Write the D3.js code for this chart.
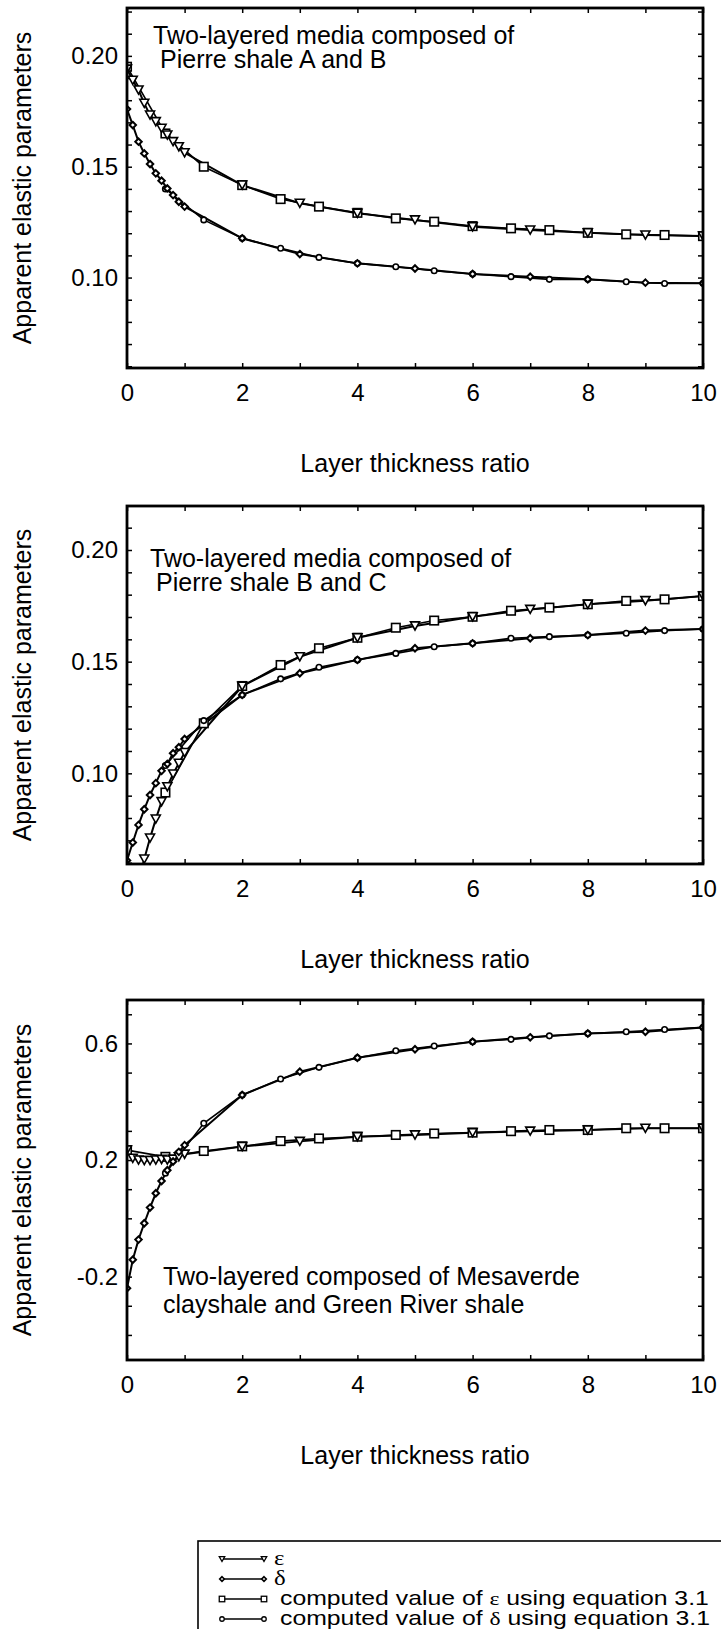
<!DOCTYPE html>
<html>
<head>
<meta charset="utf-8">
<script src="https://cdn.jsdelivr.net/npm/d3@7"></script>
<style>
  html, body { margin: 0; padding: 0; background: #fff; }
  svg { display: block; }
  text { font-family: "Liberation Sans", Arial, sans-serif; fill: #000; }
  .serif { font-family: "Liberation Serif", "DejaVu Serif", serif; }
</style>
</head>
<body>
<svg id="fig" width="721" height="1629"></svg>
<script>
// Layer thickness ratios: measured values are sampled finely below 1, then at integers;
// computed values come every 2/3.
const xMeasured = [0, 0.1, 0.2, 0.3, 0.4, 0.5, 0.6, 0.7, 0.8, 0.9, 1, 2, 3, 4, 5, 6, 7, 8, 9, 10];
const xComputed = [0, 0.667, 1.333, 2, 2.667, 3.333, 4, 4.667, 5.333, 6, 6.667, 7.333, 8, 8.667, 9.333, 10];

// Pierre shale A and B
const epsAB       = [0.194, 0.189, 0.1846, 0.1786, 0.1733, 0.1703, 0.1673, 0.1643, 0.1613, 0.159, 0.1563,
                     0.1417, 0.1335, 0.129, 0.126, 0.1229, 0.1214, 0.1202, 0.1192, 0.1187];
const deltaAB     = [0.176, 0.1688, 0.1613, 0.156, 0.1512, 0.147, 0.1437, 0.1402, 0.1372, 0.1342, 0.132,
                     0.1177, 0.1106, 0.1064, 0.1041, 0.1016, 0.1004, 0.0992, 0.0977, 0.0974];
const epsCalcAB   = [0.1951, 0.165, 0.150, 0.1417, 0.1354, 0.132, 0.1292, 0.1267, 0.1252, 0.1232,
                     0.1222, 0.1214, 0.1202, 0.1195, 0.1192, 0.1187];
const deltaCalcAB = [null, 0.140, 0.126, 0.1177, 0.1132, 0.1091, 0.1064, 0.1049, 0.1031, 0.1016,
                     0.1004, 0.0992, 0.0992, 0.0981, 0.0973, 0.0974];

// Pierre shale B and C
const epsBC       = [null, null, 0.052, 0.0616, 0.071, 0.0795, 0.0873, 0.094, 0.0997, 0.1045, 0.1093,
                     0.139, 0.1522, 0.1607, 0.166, 0.1701, 0.1734, 0.1757, 0.1773, 0.1794];
const deltaBC     = [0.061, 0.069, 0.0769, 0.0839, 0.0903, 0.0956, 0.1011, 0.1042, 0.109, 0.1117, 0.1154,
                     0.1351, 0.1448, 0.1508, 0.156, 0.1582, 0.1605, 0.1619, 0.1639, 0.1646];
const epsCalcBC   = [null, 0.0914, 0.1224, 0.1391, 0.1485, 0.156, 0.1607, 0.1652, 0.1684, 0.1701,
                     0.1728, 0.1742, 0.1757, 0.1772, 0.1779, 0.1794];
const deltaCalcBC = [null, 0.1035, 0.1236, 0.1351, 0.1423, 0.1475, 0.1508, 0.1537, 0.1567, 0.1582,
                     0.1605, 0.1612, 0.1619, 0.1627, 0.1639, 0.1646];

// Mesaverde clayshale and Green River shale
const epsMG       = [0.234, 0.206, 0.200, 0.198, 0.198, 0.200, 0.202, 0.200, 0.203, 0.211, 0.220,
                     0.246, 0.264, 0.280, 0.286, 0.294, 0.299, 0.303, 0.309, 0.309];
const deltaMG     = [-0.24, -0.142, -0.073, -0.017, 0.037, 0.086, 0.128, 0.165, 0.195, 0.228, 0.251,
                     0.423, 0.503, 0.551, 0.580, 0.606, 0.621, 0.634, 0.640, 0.655];
const epsCalcMG   = [0.234, 0.211, 0.231, 0.247, 0.265, 0.274, 0.280, 0.286, 0.291, 0.294,
                     0.299, 0.303, 0.303, 0.309, 0.309, 0.309];
const deltaCalcMG = [null, 0.155, 0.326, 0.423, 0.478, 0.518, 0.551, 0.575, 0.591, 0.606,
                     0.614, 0.626, 0.634, 0.640, 0.648, 0.655];

// Axis ticks and labels
const xTicks = [0, 1, 2, 3, 4, 5, 6, 7, 8, 9, 10];
const xLabelled = [0, 2, 4, 6, 8, 10];
const yTicksPierre = [0.06, 0.07, 0.08, 0.09, 0.10, 0.11, 0.12, 0.13, 0.14, 0.15, 0.16, 0.17, 0.18, 0.19, 0.20, 0.21, 0.22];
const yLabelsPierre = [0.10, 0.15, 0.20];
const yTicksMG = [-0.4, -0.3, -0.2, -0.1, 0, 0.1, 0.2, 0.3, 0.4, 0.5, 0.6, 0.7];
const yLabelsMG = [-0.2, 0.2, 0.6];

const xTitle = "Layer thickness ratio";
const yTitle = "Apparent elastic parameters";
const noteAB = ["Two-layered media composed of", "Pierre shale A and B"];
const noteBC = ["Two-layered media composed of", "Pierre shale B and C"];
const noteMG = ["Two-layered composed of Mesaverde", "clayshale and Green River shale"];

const legendRows = [
  { mark: "triangle", parts: [{ t: "ε", serif: true }] },
  { mark: "diamond",  parts: [{ t: "δ", serif: true }] },
  { mark: "square",   parts: [{ t: "computed value of " }, { t: "ε", serif: true }, { t: " using equation 3.1" }] },
  { mark: "circle",   parts: [{ t: "computed value of " }, { t: "δ", serif: true }, { t: " using equation 3.1" }] }
];

// ---------------------------------------------------------------------------
const svg = d3.select("#fig");
const left = 127, right = 703;

const panels = [
  { id: "ab", top: 8,    bottom: 368,  domain: [0.0592, 0.2216], ticks: yTicksPierre, labels: yLabelsPierre, fmt: 2,
    eps: epsAB, delta: deltaAB, epsCalc: epsCalcAB, deltaCalc: deltaCalcAB,
    note: noteAB, noteX: [153, 160], noteY: [44, 68] },
  { id: "bc", top: 506,  bottom: 864,  domain: [0.0594, 0.2197], ticks: yTicksPierre, labels: yLabelsPierre, fmt: 2,
    eps: epsBC, delta: deltaBC, epsCalc: epsCalcBC, deltaCalc: deltaCalcBC,
    note: noteBC, noteX: [150, 156], noteY: [567, 591] },
  { id: "mg", top: 1000, bottom: 1360, domain: [-0.486, 0.749], ticks: yTicksMG, labels: yLabelsMG, fmt: 1,
    eps: epsMG, delta: deltaMG, epsCalc: epsCalcMG, deltaCalc: deltaCalcMG,
    note: noteMG, noteX: [163, 163], noteY: [1285, 1313] }
];

// Marker shapes
function drawMarker(g, type, cx, cy, s, sw) {
  if (type === "triangle") {
    const h = s * 0.9;
    g.append("path")
      .attr("d", `M${cx - s / 2},${cy - h / 2}L${cx + s / 2},${cy - h / 2}L${cx},${cy + h / 2}Z`)
      .attr("fill", "#fff").attr("stroke", "#000").attr("stroke-width", sw);
  } else if (type === "square") {
    g.append("rect")
      .attr("x", cx - s / 2).attr("y", cy - s / 2).attr("width", s).attr("height", s)
      .attr("fill", "#fff").attr("stroke", "#000").attr("stroke-width", sw);
  } else if (type === "diamond") {
    const r = s / 2;
    g.append("path")
      .attr("d", `M${cx},${cy - r}L${cx + r},${cy}L${cx},${cy + r}L${cx - r},${cy}Z`)
      .attr("fill", "#fff").attr("stroke", "#000").attr("stroke-width", sw + 0.4);
  } else {
    g.append("circle")
      .attr("cx", cx).attr("cy", cy).attr("r", s / 2)
      .attr("fill", "#fff").attr("stroke", "#000").attr("stroke-width", sw);
  }
}

panels.forEach(p => {
  const x = d3.scaleLinear().domain([0, 10]).range([left, right]);
  const y = d3.scaleLinear().domain(p.domain).range([p.bottom, p.top]);
  const g = svg.append("g");

  // clip to the plotting frame
  svg.append("clipPath").attr("id", "clip-" + p.id)
    .append("rect").attr("x", left).attr("y", p.top)
    .attr("width", right - left).attr("height", p.bottom - p.top);

  // axes with inward ticks on all four sides
  const fmtY = d => p.labels.includes(d) ? d.toFixed(p.fmt) : "";
  const axB = g.append("g").attr("transform", `translate(0,${p.bottom})`)
    .call(d3.axisBottom(x).tickValues(xTicks).tickSize(-5).tickPadding(16)
      .tickFormat(d => xLabelled.includes(d) ? String(d) : ""));
  const axT = g.append("g").attr("transform", `translate(0,${p.top})`)
    .call(d3.axisTop(x).tickValues(xTicks).tickSize(-5).tickFormat(""));
  const axL = g.append("g").attr("transform", `translate(${left},0)`)
    .call(d3.axisLeft(y).tickValues(p.ticks).tickSize(-5).tickPadding(9).tickFormat(fmtY));
  const axR = g.append("g").attr("transform", `translate(${right},0)`)
    .call(d3.axisRight(y).tickValues(p.ticks).tickSize(-5).tickFormat(""));
  [axB, axT, axL, axR].forEach(a => {
    a.select(".domain").remove();
    a.selectAll(".tick line").attr("stroke", "#000").attr("stroke-width", 1.5);
    a.selectAll(".tick text").attr("font-size", 24).attr("font-family", "Liberation Sans, Arial, sans-serif").attr("fill", "#000");
  });

  // data lines
  const plot = g.append("g").attr("clip-path", `url(#clip-${p.id})`);
  const line = d3.line().defined(d => d.v != null).x(d => x(d.x)).y(d => y(d.v));
  const series = [
    { xs: xComputed, vs: p.epsCalc,   mark: "square",   size: 8.5, w: 1.6 },
    { xs: xComputed, vs: p.deltaCalc, mark: "circle",   size: 5.5, w: 1.6 },
    { xs: xMeasured, vs: p.eps,       mark: "triangle", size: 9,   w: 2.0 },
    { xs: xMeasured, vs: p.delta,     mark: "diamond",  size: 6.5, w: 2.0 }
  ];
  series.forEach(s => {
    const pts = s.xs.map((xv, i) => ({ x: xv, v: s.vs[i] }));
    plot.append("path").datum(pts).attr("d", line)
      .attr("fill", "none").attr("stroke", "#000").attr("stroke-width", s.w);
  });
  series.forEach(s => {
    s.xs.forEach((xv, i) => {
      if (s.vs[i] != null) drawMarker(plot, s.mark, x(xv), y(s.vs[i]), s.size, 1.6);
    });
  });

  // frame
  g.append("rect").attr("x", left).attr("y", p.top)
    .attr("width", right - left).attr("height", p.bottom - p.top)
    .attr("fill", "none").attr("stroke", "#000").attr("stroke-width", 2.8);

  // panel annotation
  p.note.forEach((t, i) => {
    g.append("text").attr("x", p.noteX[i]).attr("y", p.noteY[i])
      .attr("font-size", 25).text(t);
  });

  // axis titles
  g.append("text").attr("x", (left + right) / 2).attr("y", p.bottom + 104)
    .attr("text-anchor", "middle").attr("font-size", 25).text(xTitle);
  g.append("text").attr("transform", `translate(31,${(p.top + p.bottom) / 2}) rotate(-90)`)
    .attr("text-anchor", "middle").attr("font-size", 25).text(yTitle);
});

// Legend box (runs off the page on the right and bottom)
const lg = svg.append("g");
const boxTop = 1541;
lg.append("rect").attr("x", 198).attr("y", boxTop).attr("width", 700).attr("height", 200)
  .attr("fill", "none").attr("stroke", "#000").attr("stroke-width", 1.6);
const rowY = d3.scalePoint().domain(d3.range(legendRows.length)).range([boxTop + 18, boxTop + 78]);
legendRows.forEach((r, i) => {
  const cy = rowY(i);
  lg.append("line").attr("x1", 222).attr("x2", 264).attr("y1", cy).attr("y2", cy)
    .attr("stroke", "#000").attr("stroke-width", 1.4);
  const sz = r.mark === "circle" || r.mark === "diamond" ? 4.5 : 5.5;
  drawMarker(lg, r.mark, 222, cy, sz, 1.3);
  drawMarker(lg, r.mark, 264, cy, sz, 1.3);
  const tx = lg.append("text").attr("transform", `translate(${r.parts.length > 1 ? 280 : 274},${cy + 6}) scale(1.24,1)`)
    .attr("font-size", 20);
  r.parts.forEach(pt => {
    const ts = tx.append("tspan").text(pt.t);
    if (pt.serif) ts.attr("class", "serif").attr("font-size", r.parts.length > 1 ? 19 : 20);
  });
});
</script>
</body>
</html>
